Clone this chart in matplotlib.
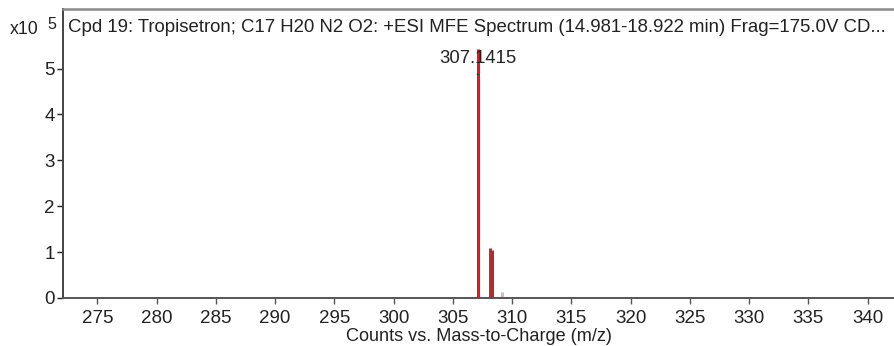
import matplotlib

matplotlib.use("Agg")

import matplotlib.pyplot as plt

plt.rcParams["font.family"] = ["Liberation Sans", "DejaVu Sans"]

# Peak list (m/z, counts in units of 1e5)
mz = [307.1415, 308.14, 309.15]
counts = [5.43, 1.08, 0.13]
peak_colors = ["#e8141c", "#d0282a", "#d8b8bc"]
labelled_peak = 307.1415

title = ("Cpd 19: Tropisetron; C17 H20 N2 O2: +ESI MFE Spectrum "
         "(14.981-18.922 min) Frag=175.0V CD...")
xticks = [275, 280, 285, 290, 295, 300, 305, 310, 315, 320, 325, 330, 335, 340]
yticks = [0, 1, 2, 3, 4, 5]

fig = plt.figure(figsize=(8.95, 3.46), dpi=100)
ax = fig.add_axes([0.0704, 0.139, 0.93, 0.835])

ax.vlines(mz, 0, counts, colors=peak_colors, linewidth=2.2)
# darker shoulder on the M+1 isotope
ax.vlines([mz[1] + 0.2], 0, [counts[1] - 0.04], colors="#8c3a3a", linewidth=2.2)

label_h = counts[mz.index(labelled_peak)]
ax.text(labelled_peak, label_h - 0.2, f"{labelled_peak:.4f}", ha="center",
        va="center", fontsize=13.3, color="#222222")
ax.plot([labelled_peak - 0.12, labelled_peak + 0.02], [label_h - 0.55] * 2,
        color="#333333", linewidth=1)

ax.text(0.006, 0.965, title, transform=ax.transAxes, ha="left", va="top",
        fontsize=13.4, color="#222222")

ax.set_xlim(272.1, 342.35)
ax.set_ylim(0, 6.3)
ax.set_xticks(xticks)
ax.set_yticks(yticks)
ax.tick_params(axis="both", labelsize=13.5, colors="#222222", length=4,
               width=1, direction="out", pad=2)
ax.tick_params(axis="x", color="#555555", pad=5)

ax.spines["right"].set_visible(False)
ax.spines["top"].set_color("#8a8a8a")
ax.spines["top"].set_linewidth(1.8)
ax.spines["left"].set_color("#444444")
ax.spines["left"].set_linewidth(1.4)
ax.spines["bottom"].set_color("#555555")
ax.spines["bottom"].set_linewidth(1.4)

ax.set_xlabel("Counts vs. Mass-to-Charge (m/z)", fontsize=13.1,
              color="#222222", labelpad=0.5)
fig.text(0.011, 0.915, "x10", fontsize=12.8, color="#222222", ha="left",
         va="center")
fig.text(0.053, 0.93, "5", fontsize=11.5, color="#222222", ha="left",
         va="center")

fig.savefig("out.png", dpi=100)
